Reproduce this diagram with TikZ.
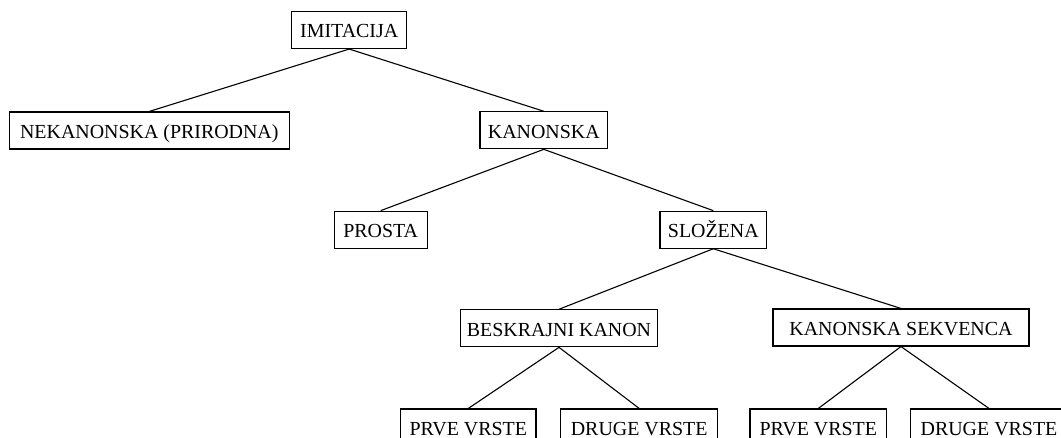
\documentclass[tikz,border=0pt]{standalone}
\usepackage{fontspec}
\setmainfont{Liberation Serif}
\begin{document}
\begin{tikzpicture}[x=1bp,y=-1bp,
  box/.style={draw, line width=1.1bp, inner sep=0pt, minimum height=37bp,
    text height=16bp, text depth=0pt, font=\fontsize{20}{24}\selectfont},
  link/.style={line width=1.1bp}]
\useasboundingbox (0,0) rectangle (1061,438);
\clip (0,0) rectangle (1061,438);
\node[box, minimum width=115bp] (imit) at (349.2,30) {IMITACIJA};
\node[box, minimum width=280bp] (nek) at (149.3,130.5) {NEKANONSKA (PRIRODNA)};
\node[box, minimum width=127.7bp] (kan) at (543.8,130.3) {KANONSKA};
\node[box, minimum width=93.3bp] (pro) at (380.7,229.7) {PROSTA};
\node[box, minimum width=106.7bp] (slo) at (713.3,229.7) {SLOŽENA};
\node[box, minimum width=197bp] (bes) at (559,328.3) {BESKRAJNI KANON};
\node[box, minimum width=256bp] (sek) at (901,327.5) {KANONSKA SEKVENCA};
\node[box, minimum width=135.3bp] (p1) at (468.3,427.5) {PRVE VRSTE};
\node[box, minimum width=157bp] (d1) at (639.2,427.5) {DRUGE VRSTE};
\node[box, minimum width=136.7bp] (p2) at (818.3,427.5) {PRVE VRSTE};
\node[box, minimum width=157bp] (d2) at (989,427.5) {DRUGE VRSTE};
\draw[link] (imit.south) -- (nek.north);
\draw[link] (imit.south) -- (kan.north);
\draw[link] (kan.south) -- (pro.north);
\draw[link] (kan.south) -- (slo.north);
\draw[link] (slo.south) -- (bes.north);
\draw[link] (slo.south) -- (sek.north);
\draw[link] (bes.south) -- (p1.north);
\draw[link] (bes.south) -- (d1.north);
\draw[link] (sek.south) -- (p2.north);
\draw[link] (sek.south) -- (d2.north);
\end{tikzpicture}
\end{document}
